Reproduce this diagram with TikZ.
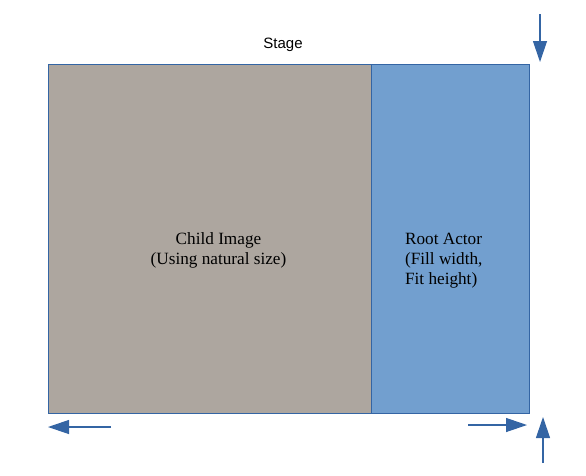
\documentclass[tikz,border=0pt]{standalone}
\usepackage{fontspec}
\setmainfont{Liberation Serif}
\setsansfont{Liberation Sans}
\usetikzlibrary{arrows.meta,positioning}
\definecolor{edgeblue}{HTML}{3465A4}
\definecolor{rootblue}{HTML}{729FCF}
\definecolor{childgrey}{HTML}{ADA69F}

\begin{document}
\begin{tikzpicture}[x=1pt,y=-1pt,
        box/.style={draw=edgeblue, line width=0.8pt, inner sep=0pt, minimum height=349pt},
        lbl/.style={inner sep=0pt, font=\fontsize{17.2}{20}\selectfont},
        dir/.style={draw=edgeblue, line width=1.2pt, -{Triangle[length=21pt,width=14pt]}}]
        \useasboundingbox (0,0) rectangle (586,475);

        \node[font=\sffamily\fontsize{15}{17}\selectfont] (stage) at (283,45) {Stage};

        \node[box, fill=childgrey, minimum width=323pt] (child) at (209.5,238.5) {};
        \node[box, fill=rootblue, minimum width=158pt, right=0pt of child] (root) {};

        \node[lbl, align=center, below=169pt of child.north, xshift=9pt] (childtxt) {Child Image\\(Using natural size)};
        \node[lbl, align=left, below=169pt of root.north, xshift=-7pt] (roottxt) {Root Actor\\(Fill width,\\Fit height)};

        % arrows round the stage
        \coordinate (topA) at (540,14);
        \coordinate (topB) at (540,62);
        \coordinate (leftA) at (111,427);
        \coordinate (leftB) at (48,427);
        \coordinate (rightA) at (468,425);
        \coordinate (rightB) at (527,425);
        \coordinate (upA) at (543,463);
        \coordinate (upB) at (543,417);

        \draw[dir] (topA) -- (topB);
        \draw[dir] (leftA) -- (leftB);
        \draw[dir] (rightA) -- (rightB);
        \draw[dir] (upA) -- (upB);
\end{tikzpicture}
\end{document}
